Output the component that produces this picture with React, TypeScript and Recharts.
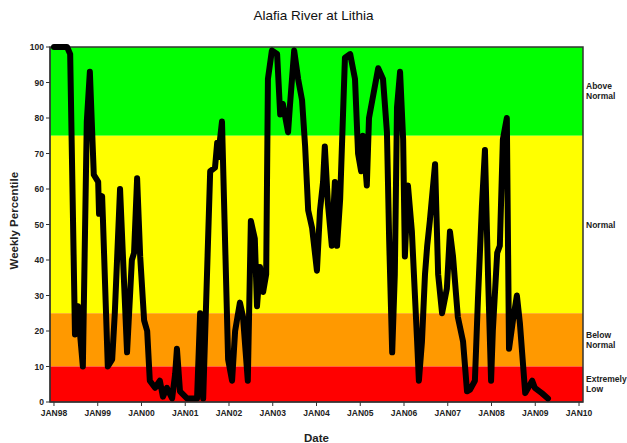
import React from "react";
import { LineChart, Line, XAxis, YAxis, ReferenceArea } from "recharts";

// decimal year of each weekly reading
const weekDates = [
  1998.0, 1998.3, 1998.37, 1998.48, 1998.55, 1998.59, 1998.66, 1998.75, 1998.82, 1998.91,
  1999.01, 1999.03, 1999.1, 1999.12, 1999.23, 1999.33, 1999.39, 1999.51, 1999.67, 1999.78,
  1999.83, 1999.9, 1999.97, 2000.06, 2000.13, 2000.19, 2000.31, 2000.42, 2000.49, 2000.58,
  2000.7, 2000.77, 2000.81, 2000.88, 2001.04, 2001.11, 2001.27, 2001.34, 2001.41, 2001.57,
  2001.68, 2001.73, 2001.75, 2001.84, 2001.98, 2002.07, 2002.14, 2002.25, 2002.32, 2002.43,
  2002.5, 2002.59, 2002.64, 2002.71, 2002.78, 2002.85, 2002.89, 2002.98, 2003.1, 2003.17,
  2003.23, 2003.35, 2003.39, 2003.49, 2003.58, 2003.67, 2003.74, 2003.81, 2003.9, 2004.01,
  2004.08, 2004.15, 2004.19, 2004.26, 2004.35, 2004.42, 2004.47, 2004.54, 2004.65, 2004.77,
  2004.88, 2004.95, 2005.02, 2005.06, 2005.15, 2005.2, 2005.29, 2005.41, 2005.52, 2005.61,
  2005.66, 2005.73, 2005.79, 2005.84, 2005.91, 2005.98, 2006.02, 2006.09, 2006.18, 2006.3,
  2006.34, 2006.41, 2006.48, 2006.53, 2006.59, 2006.71, 2006.78, 2006.87, 2006.98, 2007.05,
  2007.12, 2007.23, 2007.35, 2007.44, 2007.51, 2007.62, 2007.69, 2007.78, 2007.85, 2007.92,
  2007.99, 2008.03, 2008.13, 2008.19, 2008.26, 2008.35, 2008.4, 2008.49, 2008.58, 2008.65,
  2008.77, 2008.93, 2008.99, 2009.15, 2009.29,
];

const weeklyPercentile = [
  100, 100, 98, 19, 27, 20, 10, 79, 93, 64,
  62, 53, 58, 51, 10, 12, 25, 60, 14, 40,
  42, 63, 41, 23, 20, 6, 4, 6, 1.5, 4,
  1, 8, 15, 3, 1, 1, 1, 25, 1, 65,
  66, 73, 69, 79, 12, 6, 20, 28, 24, 6,
  51, 46, 27, 38, 31, 36, 91, 99, 98, 81,
  84, 76, 83, 99, 91, 85, 72, 54, 49, 37,
  54, 62, 72, 56, 44, 62, 44, 57, 97, 98,
  91, 70, 65, 75, 61, 80, 86, 94, 91, 76,
  46, 14, 36, 83, 93, 74, 41, 61, 48, 17,
  6, 17, 36, 44, 51, 67, 36, 25, 32, 48,
  41, 24, 17, 3, 3.5, 6, 29, 55, 71, 36,
  6, 20, 42, 44, 74, 80, 15, 23, 30, 22,
  2.5, 6, 4, 2.5, 1,
];

const yearTicks = [1998, 1999, 2000, 2001, 2002, 2003, 2004, 2005, 2006, 2007, 2008, 2009, 2010];
const percentTicks = [0, 10, 20, 30, 40, 50, 60, 70, 80, 90, 100];

const bands = [
  { from: 75, to: 100, color: "#00ff00", label: ["Above", "Normal"] },
  { from: 25, to: 75, color: "#ffff00", label: ["Normal"] },
  { from: 10, to: 25, color: "#ff9900", label: ["Below", "Normal"] },
  { from: 0, to: 10, color: "#ff0000", label: ["Extremely", "Low"] },
];

const data = weekDates.map((d, i) => ({ date: d, pct: weeklyPercentile[i] }));

const FONT = "'Liberation Sans', Arial, sans-serif";

function bandLabel(lines: string[]) {
  return (props: any) => {
    const vb = props.viewBox || {};
    const x = vb.x + vb.width + 3;
    const cy = vb.y + vb.height / 2;
    const startY = cy - ((lines.length - 1) * 10) / 2 + 3;
    return (
      <text x={x} y={startY} fontFamily={FONT} fontSize={8.5} fontWeight="bold" fill="#222">
        {lines.map((l, i) => (
          <tspan key={i} x={x} dy={i === 0 ? 0 : 10}>
            {l}
          </tspan>
        ))}
      </text>
    );
  };
}

export default function App() {
  return (
    <div style={{ position: "absolute", left: 0, top: 0, width: 627, height: 443, background: "#fff", fontFamily: FONT }}>
      <div style={{ position: "absolute", top: 8, left: 0, width: 627, textAlign: "center", fontSize: 13.5, color: "#111" }}>
        Alafia River at Lithia
      </div>
      <LineChart width={627} height={443} data={data} margin={{ top: 47, right: 44, bottom: 5, left: 0 }}>
        <XAxis
          dataKey="date"
          type="number"
          domain={[1997.909, 2010.091]}
          ticks={yearTicks}
          tickFormatter={(y: number) => "JAN" + String(y).slice(2)}
          height={36}
          stroke="#333"
          tickSize={4}
          tick={{ fontSize: 8.5, fontWeight: "bold", fill: "#222", fontFamily: FONT, dy: 2 }}
          label={{ value: "Date", position: "insideBottom", offset: -4, fontSize: 11.5, fontWeight: "bold", fill: "#222", fontFamily: FONT }}
        />
        <YAxis
          type="number"
          domain={[0, 100]}
          ticks={percentTicks}
          width={50}
          stroke="#333"
          tickSize={4}
          interval={0}
          tick={{ fontSize: 8.5, fontWeight: "bold", fill: "#222", fontFamily: FONT }}
          label={{ value: "Weekly Percentile", angle: -90, position: "insideLeft", offset: 14, dy: 45, fontSize: 11.5, fontWeight: "bold", fill: "#222", fontFamily: FONT }}
        />
        {bands.map((b) => (
          <ReferenceArea
            key={b.from}
            x1={1997.909}
            x2={2010.091}
            y1={b.from}
            y2={b.to}
            fill={b.color}
            fillOpacity={1}
            stroke="none"
            label={bandLabel(b.label)}
          />
        ))}
        <ReferenceArea x1={1997.909} x2={2010.091} y1={0} y2={100} fill="none" fillOpacity={0} stroke="#333" strokeWidth={1.5} />
        <Line
          dataKey="pct"
          type="linear"
          stroke="#000"
          strokeWidth={6}
          strokeLinejoin="round"
          strokeLinecap="round"
          dot={false}
          isAnimationActive={false}
        />
      </LineChart>
    </div>
  );
}
